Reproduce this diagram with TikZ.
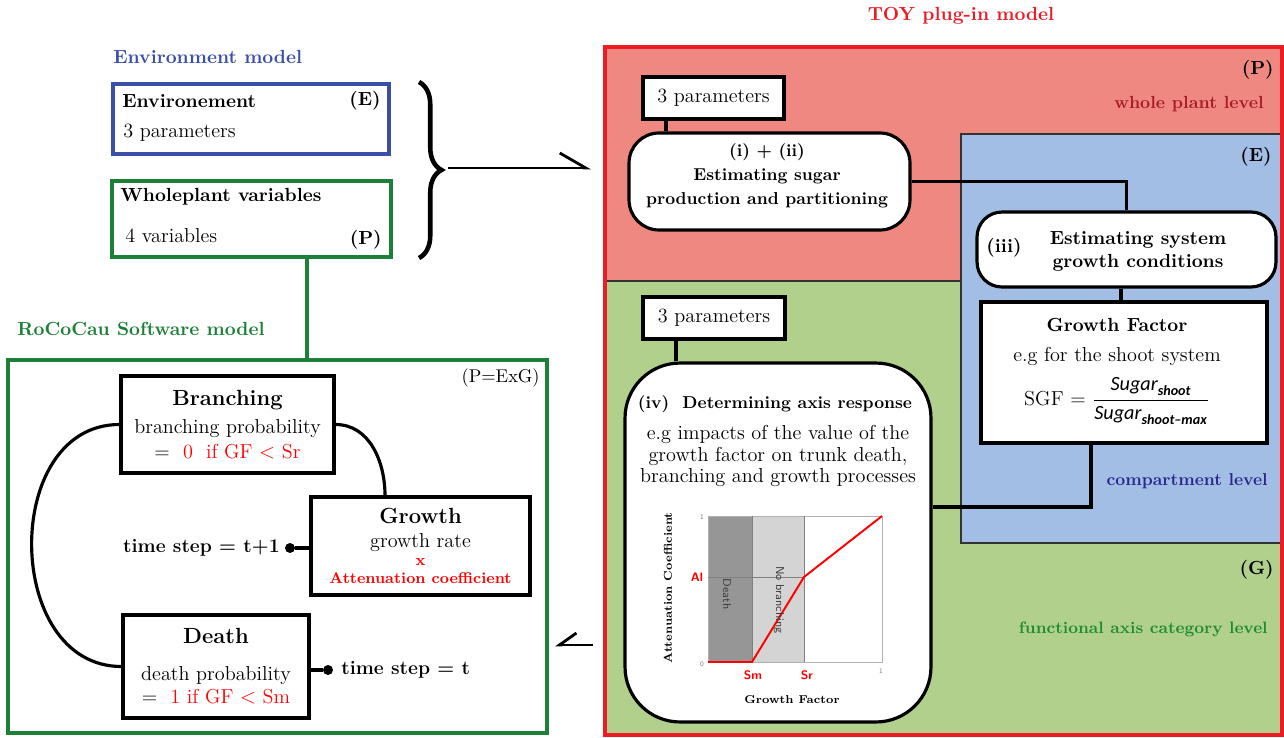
\documentclass[tikz,border=0pt]{standalone}
\usepackage{amsmath}
\usepackage{fontspec}
\newfontfamily\calfont{Carlito}
\usetikzlibrary{arrows.meta, decorations.pathreplacing}

\definecolor{toyred}{RGB}{237,28,36}
\definecolor{plantpink}{RGB}{240,136,130}
\definecolor{axisgreen}{RGB}{176,208,140}
\definecolor{compblue}{RGB}{163,190,228}
\definecolor{envblue}{RGB}{59,79,168}
\definecolor{rocogreen}{RGB}{28,128,56}
\definecolor{lvlred}{RGB}{168,28,40}
\definecolor{lvlblue}{RGB}{40,40,140}
\definecolor{lvlgreen}{RGB}{30,140,50}
\definecolor{deathgray}{RGB}{150,150,150}
\definecolor{branchgray}{RGB}{212,212,212}

\tikzset{
  box/.style={draw, line width=1.8pt, fill=white, align=center, inner sep=0pt,
    font=\fontsize{11.5}{14}\selectfont},
  pill/.style={box, rounded corners=0.6cm},
  hd/.style={inner sep=0pt, font=\bfseries\fontsize{10.8}{13}\selectfont},
  txt/.style={inner sep=0pt, font=\fontsize{11.5}{14}\selectfont},
  stp/.style={inner sep=0pt, font=\bfseries\fontsize{11}{14}\selectfont},
  tiny/.style={inner sep=0pt, font=\sffamily\fontsize{4}{5}\selectfont, text=gray},
  dot/.style={circle, fill, inner sep=0pt, minimum size=0.2cm},
  wire/.style={line width=1.8pt},
}
\newcommand{\bigtitle}[1]{{\bfseries\fontsize{12.5}{15}\selectfont #1}}

\begin{document}
\begin{tikzpicture}[x=0.02cm, y=-0.02cm]
\useasboundingbox (0,0) rectangle (1284,737);

% TOY plug-in model: level areas
\fill[plantpink] (605,47) rectangle (1282,281);
\fill[axisgreen] (605,281) rectangle (1282,735);
\draw[line width=0.8pt, black!80] (605,281) -- (961,281);
\filldraw[fill=compblue, draw=black!80, line width=1pt] (961,134) rectangle (1290,543);
\node[draw=toyred, line width=1.8pt, minimum width=13.54cm, minimum height=13.76cm] (toy) at (943.5,391) {};
\node[hd, text=toyred] (toyttl) at (961,16) {TOY plug-in model};

\node[hd, anchor=east] (tagP) at (1274,70) {(P)};
\node[hd, anchor=east, text=lvlred, font=\bfseries\fontsize{10}{12}\selectfont] (lvlP) at (1264,104) {whole plant level};
\node[hd, anchor=east] (tagE) at (1272,157) {(E)};
\node[hd, anchor=east, text=lvlblue, font=\bfseries\fontsize{9.8}{12}\selectfont] (lvlE) at (1268,481) {compartment level};
\node[hd, anchor=east] (tagG) at (1274,570) {(G)};
\node[hd, anchor=east, text=lvlgreen, font=\bfseries\fontsize{9.4}{12}\selectfont] (lvlG) at (1268,629) {functional axis category level};

% (i) + (ii)
\node[box, minimum width=2.82cm, minimum height=0.84cm] (par1) at (713.5,98) {3 parameters};
\node[pill, minimum width=5.62cm, minimum height=1.94cm] (sug) at (769.5,181.5) {};
\node[hd, align=center, font=\bfseries\fontsize{9.8}{13.7}\selectfont] (sugtxt) at (767,176) {(i) + (ii)\\Estimating sugar\\production and partitioning};
\draw[wire] (666,0 |- par1.south) -- (666,0 |- sug.north);

% (iii)
\node[pill, rounded corners=0.5cm, minimum width=5.98cm, minimum height=1.5cm] (gc) at (1126.5,249.5) {};
\node[hd] (gcnum) at (1004,248) {(iii)};
\node[hd, align=center] (gctxt) at (1138,251) {Estimating system\\growth conditions};
\draw[wire] (sug.east) -| (gc.north);

% growth factor
\node[box, minimum width=5.72cm, minimum height=2.82cm] (gf) at (1124,372.5) {};
\node[hd] (gfttl) at (1117,325) {Growth Factor};
\node[txt] (gfeg) at (1117,356) {e.g for the shoot system};
\node[txt] (sgf) at (1117,401) {SGF = $\dfrac{\text{\calfont\itshape Sugar}_{\text{\calfont\bfseries\itshape shoot}}}{\text{\calfont\itshape Sugar}_{\text{\calfont\bfseries\itshape shoot\textendash max}}}$};
\draw[wire] (gc.south -| 1121,0) -- (gf.north -| 1121,0);

% (iv)
\node[box, minimum width=2.84cm, minimum height=0.84cm] (par2) at (714,318) {3 parameters};
\node[pill, rounded corners=1.1cm, minimum width=6.12cm, minimum height=7.18cm] (ax) at (778,542.5) {};
\draw[wire] (676,0 |- par2.south) -- (676,0 |- ax.north);
\draw[wire] (gf.south -| 1091,0) |- (ax.east |- 0,507);
\node[hd, font=\bfseries\fontsize{9.8}{12}\selectfont] (axttl) at (775,404) {(iv)~~Determining axis response};
\node[txt, align=center, font=\fontsize{11.5}{12.4}\selectfont] (axtxt) at (778,456) {e.g impacts of the value of the\\growth factor on trunk death,\\branching and growth processes};

% response curve
\fill[deathgray] (708,516) rectangle (752,662);
\fill[branchgray] (752,516) rectangle (804,662);
\draw[gray!60, line width=0.5pt] (708,516) rectangle (882,662);
\draw[gray, line width=0.5pt] (752,516) -- (752,662) (804,516) -- (804,662) (708,577) -- (804,577);
\draw[red, line width=1.1pt] (708,662) -- (752,662) -- (804,577) -- (882,516);
\node[tiny] (t0) at (702,664) {0};
\node[tiny] (t1y) at (702,517) {1};
\node[tiny] (t1x) at (881,671) {1};
\node[inner sep=0pt, font=\sffamily\bfseries\fontsize{7}{8}\selectfont, text=red] (al) at (697,577) {Al};
\node[inner sep=0pt, font=\sffamily\bfseries\fontsize{7}{8}\selectfont, text=red] (sm) at (753,675) {Sm};
\node[inner sep=0pt, font=\sffamily\bfseries\fontsize{7}{8}\selectfont, text=red] (sr) at (807,675) {Sr};
\node[inner sep=0pt, font=\sffamily\fontsize{6.5}{7}\selectfont, text=black!75, rotate=-90] (dlbl) at (727,594) {Death};
\node[inner sep=0pt, font=\sffamily\fontsize{6.5}{7}\selectfont, text=black!75, rotate=-90] (nblbl) at (779,600) {No branching};
\node[inner sep=0pt, font=\bfseries\fontsize{6.5}{8}\selectfont] (gflbl) at (792,700) {Growth Factor};
\node[inner sep=0pt, font=\bfseries\fontsize{6.5}{8}\selectfont, rotate=90] (aclbl) at (668,588) {Attenuation Coefficient};

% Environment model
\node[hd, anchor=west, text=envblue] (envmdl) at (113,57) {Environment model};
\node[draw=envblue, line width=2.2pt, minimum width=5.52cm, minimum height=1.4cm] (env) at (251,119) {};
\node[hd, anchor=west] (envttl) at (122,101) {Environement};
\node[hd, anchor=east] (envtag) at (381,101) {(E)};
\node[txt, anchor=west] (envpar) at (123,133) {3 parameters};

\node[draw=rocogreen, line width=2.2pt, minimum width=5.58cm, minimum height=1.52cm] (plant) at (251.5,219) {};
\node[hd, anchor=west] (plantttl) at (120,197) {Wholeplant variables};
\node[txt, anchor=west] (plantvar) at (125,236) {4 variables};
\node[hd, anchor=east] (planttag) at (382,240) {(P)};

\draw[line width=2.6pt, decorate, decoration={brace, amplitude=0.45cm}] (419,82) -- (419,258);
\coordinate (brtip) at (448,168);
\coordinate (toyin) at (591,168);
\draw[line width=1.6pt, -{Straight Barb[harpoon, length=0.52cm, width=0.6cm]}] (brtip) -- (toyin);

% RoCoCau Software model
\node[hd, anchor=west, text=rocogreen] (rocottl) at (17,329) {RoCoCau Software model};
\node[draw=rocogreen, line width=2pt, minimum width=10.78cm, minimum height=7.46cm] (roco) at (277.5,546.5) {};
\draw[rocogreen, line width=2pt] (307,0 |- plant.south) -- (307,0 |- roco.north);
\node[txt, anchor=east, font=\fontsize{10.5}{12}\selectfont] (rocotag) at (540,378) {(P=ExG)};

\node[box, minimum width=4.26cm, minimum height=1.94cm] (brn) at (227.5,424.5)
  {\bigtitle{Branching}\\[2pt] branching probability\\ =~~\textcolor{red}{0~~if GF $<$ Sr}};
\node[box, minimum width=4.38cm, minimum height=1.96cm] (grw) at (420.5,546)
  {\bigtitle{Growth}\\ growth rate\\[-4pt] \textcolor{red}{\bfseries\fontsize{9}{14}\selectfont x}\\[-3.5pt] \textcolor{red}{\bfseries\fontsize{8.8}{14}\selectfont Attenuation coefficient}};
\node[box, minimum width=3.72cm, minimum height=2.06cm] (dth) at (216,666.5)
  {\bigtitle{Death}\\[7pt] death probability\\[-1pt] =~~\textcolor{red}{1~if GF $<$ Sm}};

\draw[wire] (brn.west) to[out=180, in=180, looseness=1.25] (dth.west);
\draw[wire] (brn.east) to[out=0, in=90] (385,0 |- grw.north);

\node[dot] (d1) at (290,548) {};
\draw[wire] (d1) -- (d1 -| grw.west);
\node[stp, anchor=east] (ts1) at (280,548) {time step = t+1};
\node[dot] (d2) at (328,670) {};
\draw[wire] (d2 -| dth.east) -- (d2);
\node[stp, anchor=west] (ts0) at (341,670) {time step = t};

\coordinate (toyout) at (593,645);
\coordinate (rocoin) at (555,645);
\draw[line width=1.6pt, -{Straight Barb[harpoon, swap, length=0.34cm, width=0.48cm]}] (toyout) -- (rocoin);
\end{tikzpicture}
\end{document}
